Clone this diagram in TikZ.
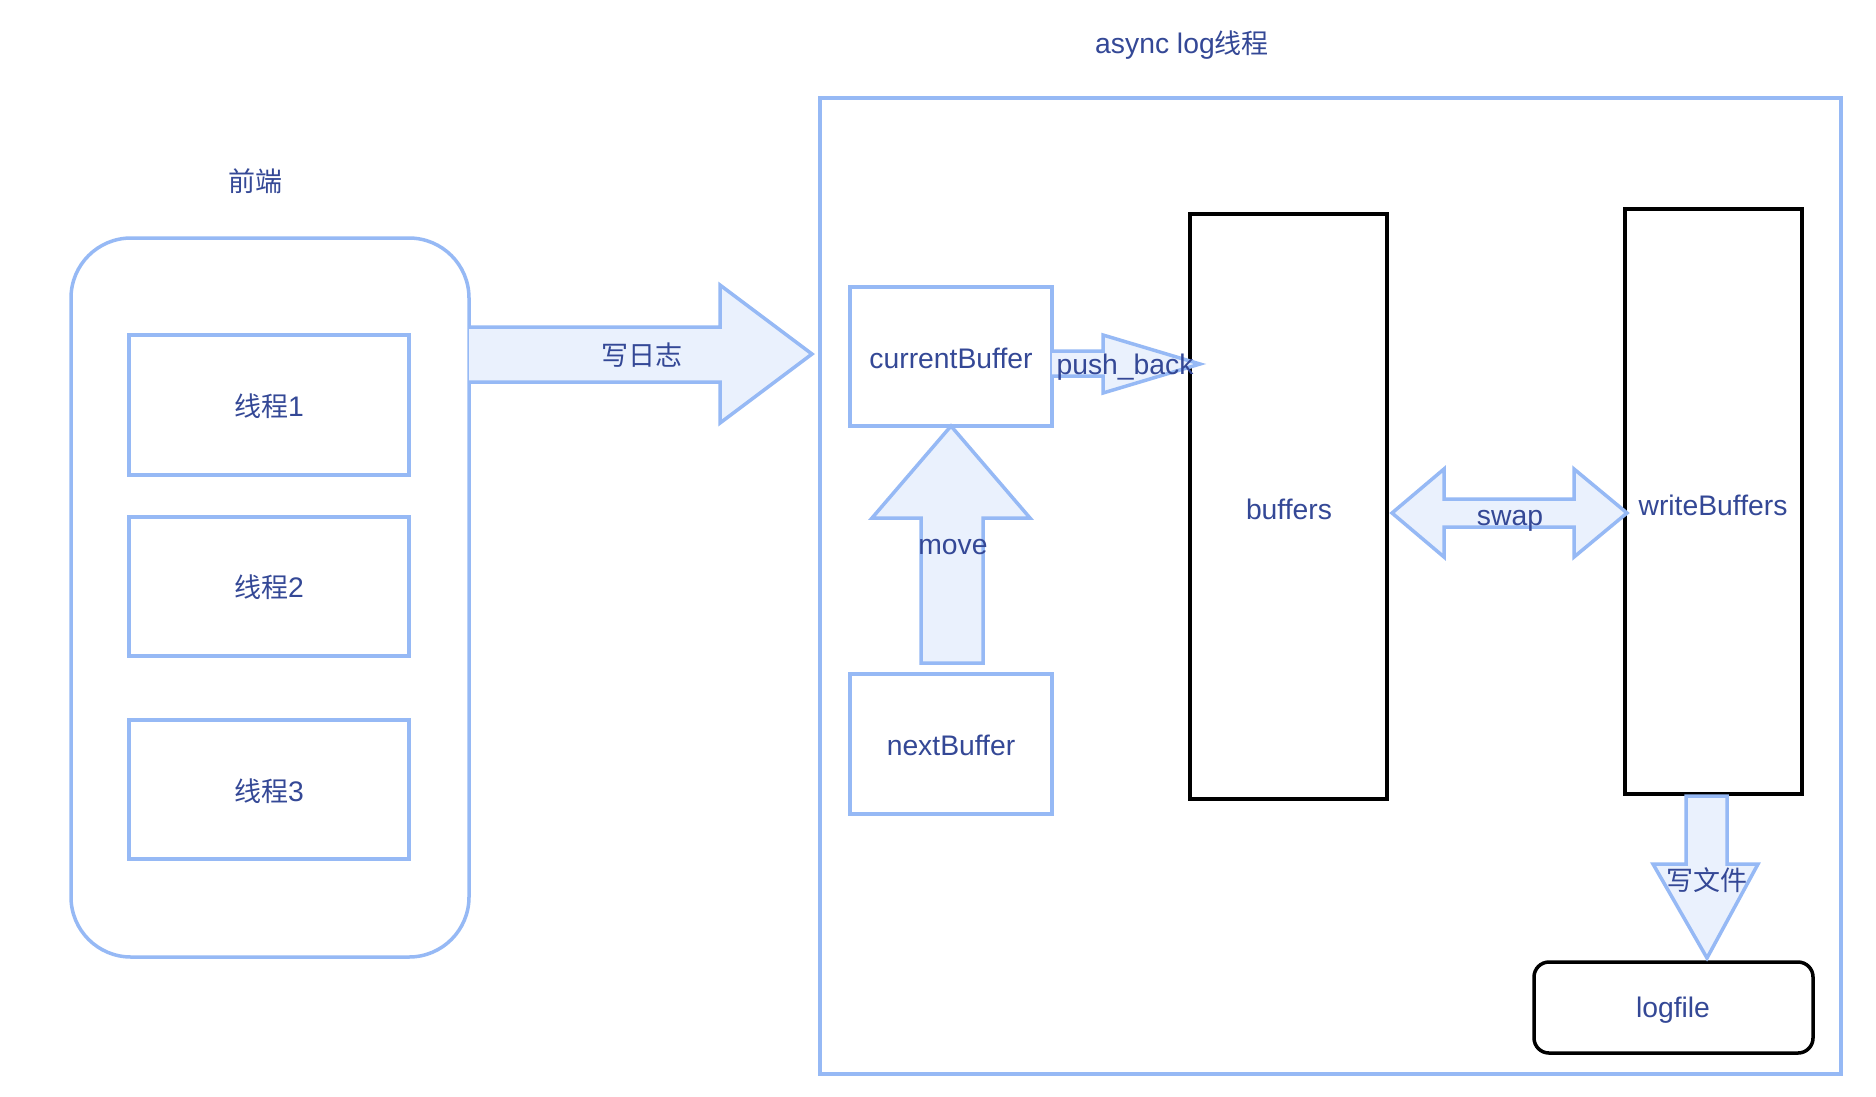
\documentclass[tikz,border=0pt]{standalone}
\usepackage{fontspec}
\setmainfont{Liberation Sans}
\newfontfamily\cjkfam{Noto Sans CJK SC}
\newcommand\cjk{\cjkfam\fontsize{27}{32}\selectfont}
\usetikzlibrary{calc}
\definecolor{bstroke}{RGB}{150,185,245}
\definecolor{bfill}{RGB}{234,241,253}
\definecolor{btext}{RGB}{52,72,150}
\tikzset{
  lbl/.style={text=btext,font=\fontsize{28.3}{33}\selectfont,inner sep=0pt},
  bluebox/.style={draw=bstroke,line width=3.5pt,fill=white},
  blackbox/.style={draw=black,line width=3.5pt,fill=white},
  blockarrow/.style={draw=bstroke,line width=3.5pt,fill=bfill,line join=miter},
}
\begin{document}
\begin{tikzpicture}[x=1pt,y=-1pt]
\useasboundingbox[fill=white] (0,0) rectangle (1876,1096);
% container and left group
\draw[bluebox] (820,98) rectangle (1841,1074);
\draw[bluebox,rounded corners=60pt] (71,238) rectangle (469,957);
\node[lbl] (title) at (1182,45) {async log{\cjk 线程}};
\node[lbl] (front) at (255,181) {\cjk 前端};
% thread boxes
\draw[bluebox] (129,335) rectangle (409,475); \node[lbl] (t1) at (269,406) {{\cjk 线程}1};
\draw[bluebox] (129,517) rectangle (409,656); \node[lbl] (t2) at (269,587) {{\cjk 线程}2};
\draw[bluebox] (129,720) rectangle (409,859); \node[lbl] (t3) at (269,791) {{\cjk 线程}3};
% buffers
\draw[bluebox] (850,287) rectangle (1052,426); \node[lbl] (cur) at (951,358) {currentBuffer};
\draw[bluebox] (850,674) rectangle (1052,814); \node[lbl] (next) at (951,745) {nextBuffer};
\draw[blackbox] (1190,214) rectangle (1387,799); \node[lbl] (buf) at (1289,509) {buffers};
\draw[blackbox] (1625,209) rectangle (1802,794); \node[lbl] (wb) at (1713,505) {writeBuffers};
\draw[blackbox,rounded corners=15pt] (1534,962) rectangle (1813,1053); \node[lbl] (log) at (1673,1010) {logfile};
% 写日志 arrow
\draw[blockarrow] (469,327) -- (720,327) -- (720,285) -- (812,354) -- (720,423) -- (720,382) -- (469,382);
\node[lbl] (wlog) at (642,355) {\cjk 写日志};
% push_back arrow
\draw[blockarrow] (1052,351) -- (1103,351) -- (1103,335) -- (1200,364) -- (1103,393) -- (1103,376) -- (1052,376);
\node[lbl] (pb) at (1125,367) {push\_back};
% move arrow
\draw[blockarrow] (921,663) -- (921,518) -- (872,518) -- (951,426) -- (1030,518) -- (983,518) -- (983,663) -- cycle;
\node[lbl] (mv) at (953,547) {move};
% swap arrow
\draw[blockarrow] (1392,513) -- (1444,469) -- (1444,499) -- (1574,499) -- (1574,469) -- (1627,513) -- (1574,557) -- (1574,527) -- (1444,527) -- (1444,557) -- cycle;
\node[lbl] (sw) at (1510,521) {swap};
% 写文件 arrow
\draw[blockarrow] (1686,796) -- (1727,796) -- (1727,864) -- (1758,864) -- (1707,958) -- (1653,864) -- (1686,864) -- cycle;
\node[lbl] (wf) at (1707,880) {\cjk 写文件};
\end{tikzpicture}
\end{document}
